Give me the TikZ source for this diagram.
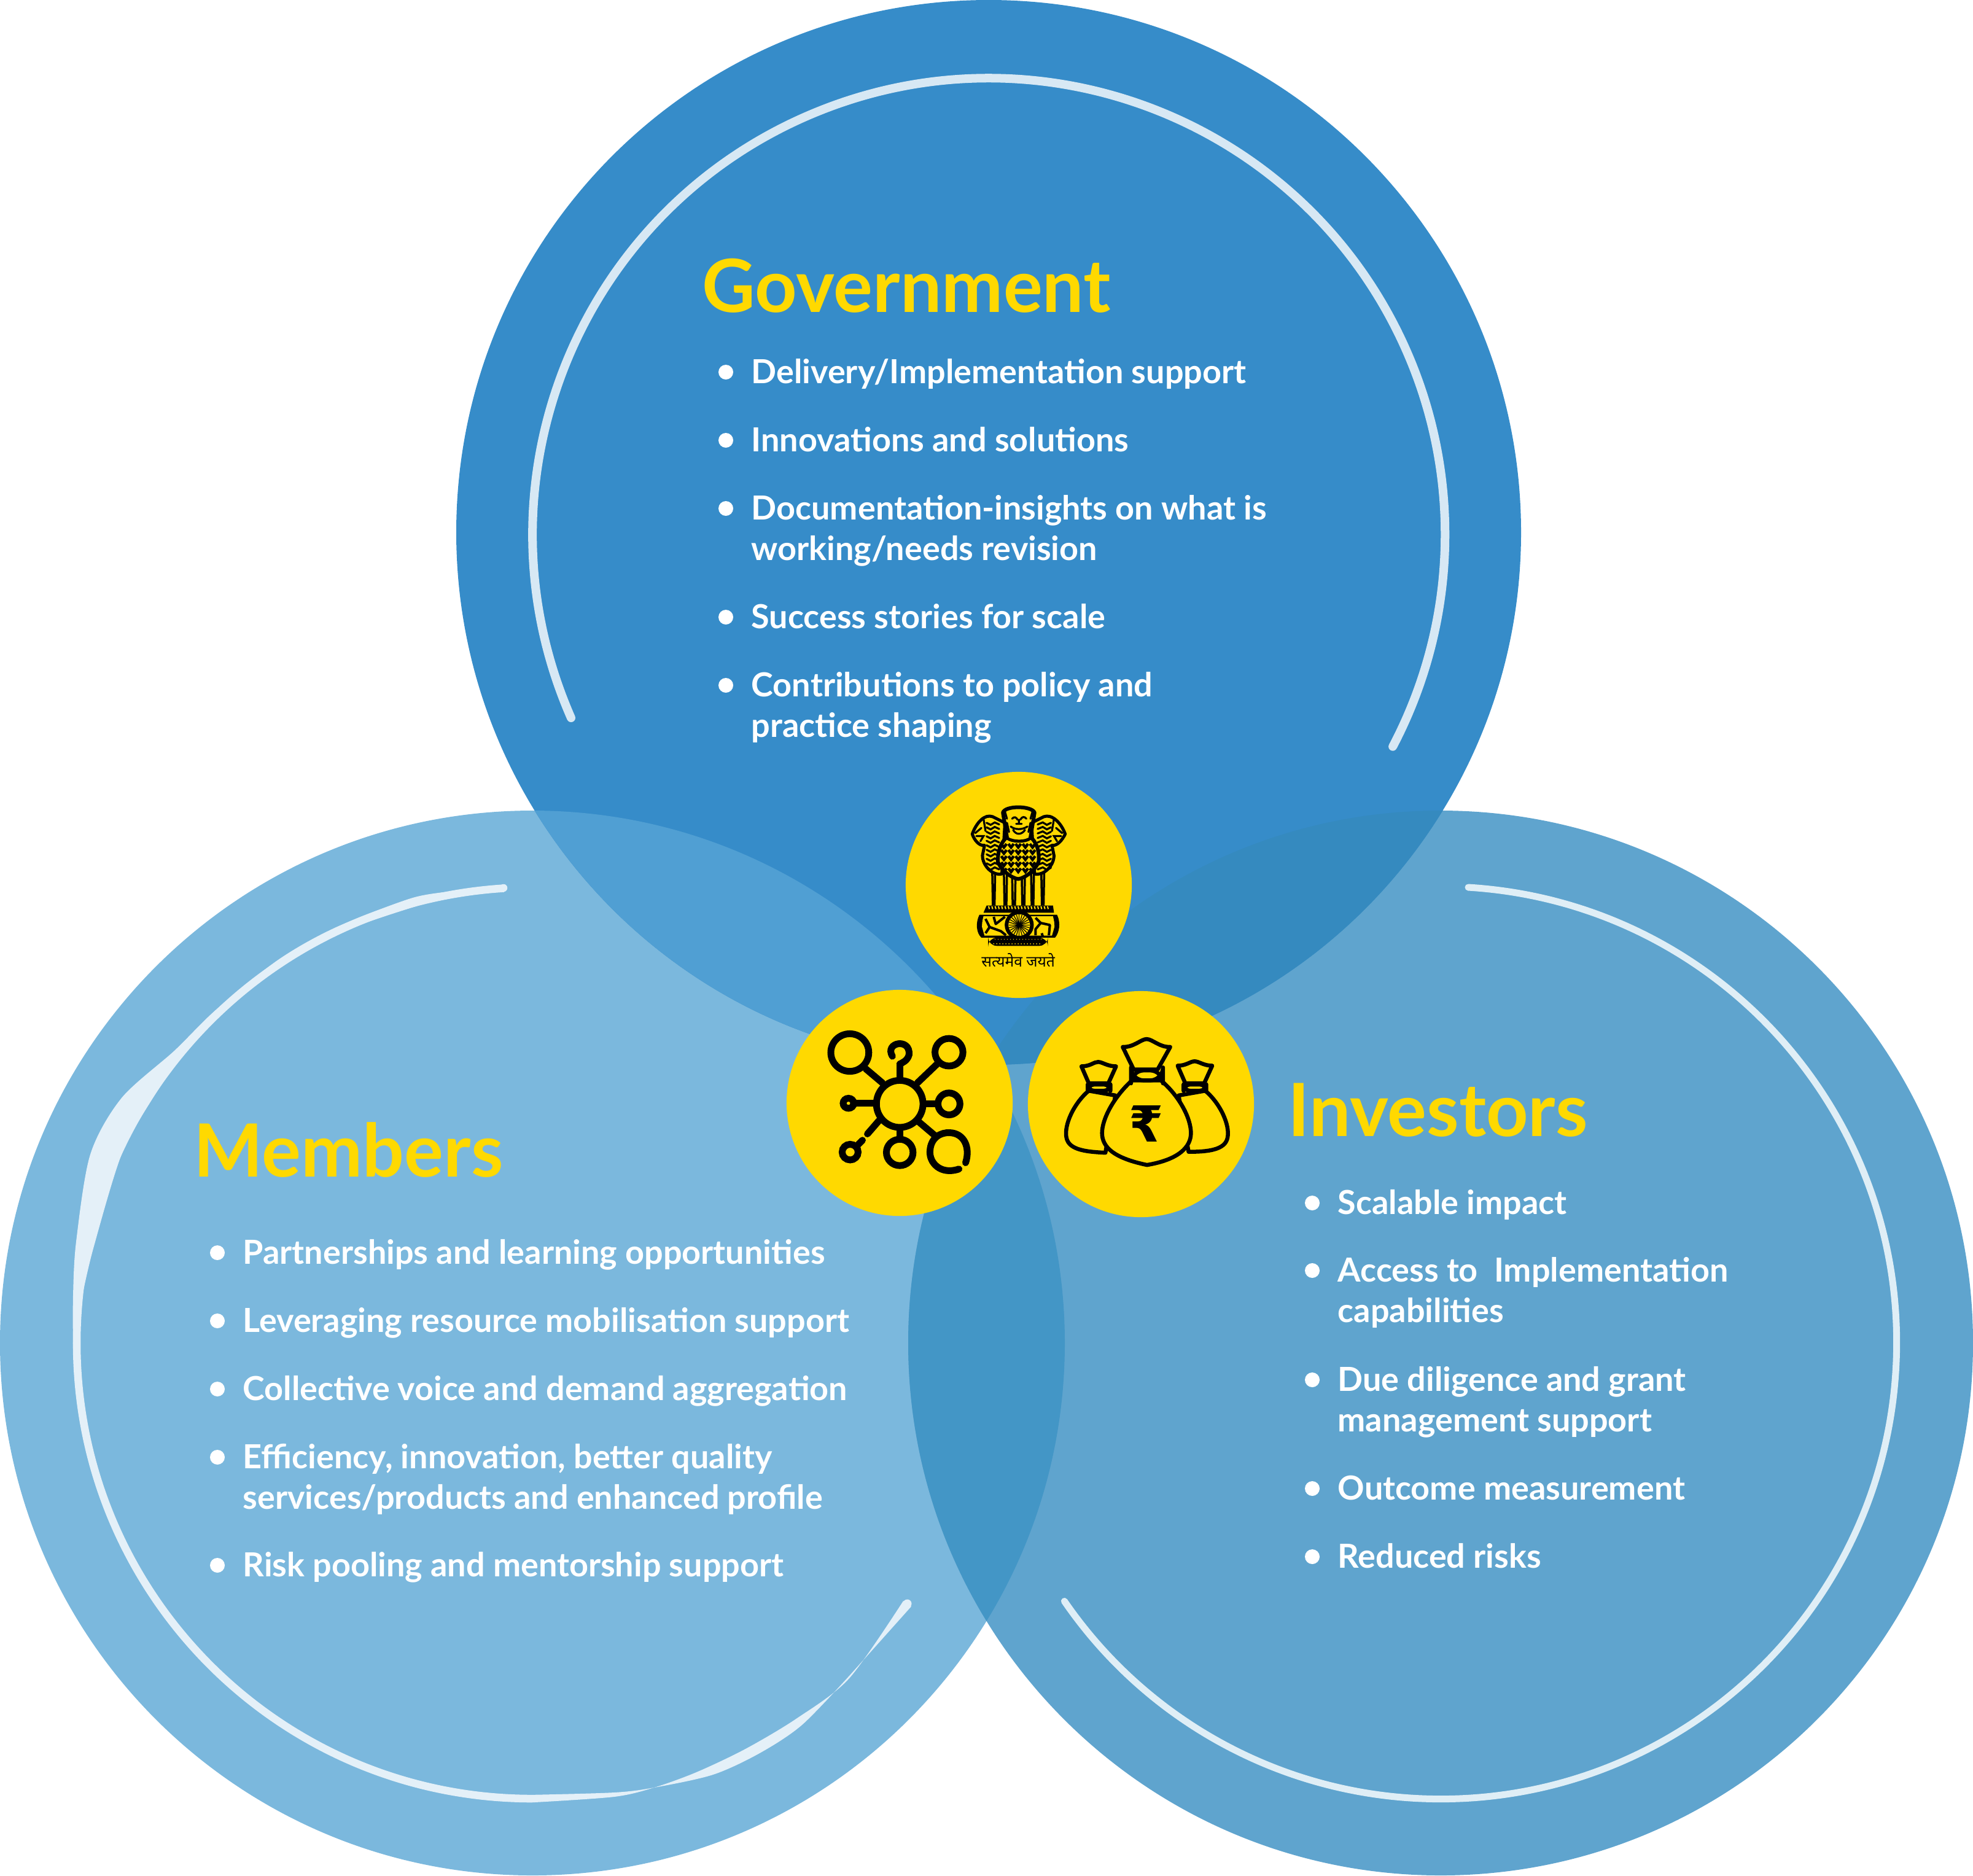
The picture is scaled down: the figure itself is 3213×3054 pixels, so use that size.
\documentclass[tikz,border=0pt]{standalone}
\usepackage{fontspec}
\setmainfont{Lato}[BoldFont=* Bold]
\newfontfamily\devfont[Script=Devanagari]{Noto Sans}
\newfontfamily\rupeefont{DejaVu Sans}
\usetikzlibrary{positioning, calc}
\definecolor{govblue}{HTML}{368CC9}
\definecolor{memblue}{HTML}{7BB8DD}
\definecolor{invblue}{HTML}{5FA4CE}
\definecolor{govmem}{HTML}{509FD3}
\definecolor{meminv}{HTML}{4396C6}
\definecolor{govinv}{HTML}{358ABF}
\definecolor{badge}{HTML}{FFD900}
\definecolor{govring}{HTML}{D7E8F4}
\definecolor{memring}{HTML}{E4F0F8}
\definecolor{invring}{HTML}{DFEEF6}
\tikzset{
  % Headings and lists
  heading/.style={font=\fontsize{34}{40}\selectfont\bfseries, text=badge, anchor=base west, inner sep=0pt},
  itemtext/.style={font=\fontsize{15.35}{18.7}\selectfont\bfseries, text=white, anchor=north west,
                   inner sep=0pt, align=left},
  itemdot/.style={circle, fill=white, minimum size=0.24cm, inner sep=0pt},
  % Rings and badges
  ring/.style={line width=#1, line cap=round},
  ring/.default=0.14cm,
  badgedisc/.style={circle, fill=badge, minimum size=3.68cm, inner sep=0pt},
  iconline/.style={draw=black, line width=0.11cm, line cap=round},
  bagline/.style={draw=black, line width=0.065cm, line join=round, fill=badge},
  % Emblem
  lionbody/.style={draw=black, line width=0.05cm, fill=badge, line join=round},
  hatch/.style={draw=black, line width=0.032cm, line cap=round},
}
\newcommand{\listitem}[5]{% name, x, y, x of dot, text
  \node[itemtext] (#1) at (#2,#3) {\strut #5};
  \node[itemdot] (#1dot) at ([shift={(#4-#2,28)}]#1.north west) {};
}
\begin{document}
\begin{tikzpicture}[x=0.01cm,y=-0.01cm]
\useasboundingbox (0,0) rectangle (3213,3054);

% ====================================================================
% Circles
% ====================================================================
\fill[memblue] (867,2187) circle[radius=867];
\fill[invblue] (2346,2187) circle[radius=867];
\fill[govblue] (1610,867) circle[radius=867];
\begin{scope}
  \clip (1610,867) circle[radius=867];
  \fill[govmem] (867,2187) circle[radius=867];
  \fill[govinv] (2346,2187) circle[radius=867];
\end{scope}
\begin{scope}
  \clip (867,2187) circle[radius=867];
  \fill[meminv] (2346,2187) circle[radius=867];
\end{scope}

% ====================================================================
% Inner rings
% ====================================================================
\draw[ring, draw=govring] (930,1169) arc[start angle=156.3, end angle=387.7, radius=743];
\draw[ring=0.11cm, draw=invring] (2391,1445) arc[start angle=-86.5, end angle=145.5, radius=743];
\draw[ring=0.125cm, draw=memring, line cap=butt] (867,2929) arc[start angle=90, end angle=266.4, radius=742];
\fill[memring] (820,1446) circle[radius=6.25];

% Members ring: thick upper left, thin lower right
\fill[memring] plot[smooth] coordinates {(745,1451) (672,1462) (545,1511) (453,1563) (351,1645) (284,1711) (198,1788) (147,1880) (124,2022) (119,2110) (119,2196)}
  -- (128,2196) -- plot[smooth] coordinates {(134,2110) (152,2033) (198,1880) (249,1788) (300,1716) (376,1637) (500,1540) (680,1475)} -- cycle;
\fill[memring] plot[smooth] coordinates {(867,2935.2) (1000,2926) (1065,2911) (1134,2886) (1214,2848) (1298,2798) (1383,2733) (1471,2607)}
  -- (1484,2616) -- plot[smooth] coordinates {(1383,2729) (1306,2809) (1237,2855) (1161,2890) (1065,2911) (1000,2919) (867,2922.8)} -- cycle;
\fill[memring] (1477.5,2611.5) circle[radius=7];

% ====================================================================
% Government
% ====================================================================
\node[heading] (govtitle) at (1143,508) {Government};
\listitem{gov1}{1223}{578}{1182}{Delivery/Implementation support}
\listitem{gov2}{1223}{689}{1182}{Innovations and solutions}
\listitem{gov3}{1223}{800}{1182}{Documentation-insights on what is\\\strut working/needs revision}
\listitem{gov4}{1223}{977}{1182}{Success stories for scale}
\listitem{gov5}{1223}{1088}{1182}{Contributions to policy and\\\strut practice shaping}

% ====================================================================
% Members
% ====================================================================
\node[heading] (memtitle) at (315,1916) {Members};
\listitem{mem1}{395}{2012}{354}{Partnerships and learning opportunities}
\listitem{mem2}{395}{2123}{354}{Leveraging resource mobilisation support}
\listitem{mem3}{395}{2234}{354}{Collective voice and demand aggregation}
\listitem{mem4}{395}{2345}{354}{Efficiency, innovation, better quality\\\strut services/products and enhanced profile}
\listitem{mem5}{395}{2521}{354}{Risk pooling and mentorship support}

% ====================================================================
% Investors
% ====================================================================
\node[heading] (invtitle) at (2097,1850) {Investors};
\listitem{inv1}{2178}{1931}{2137}{Scalable impact}
\listitem{inv2}{2178}{2041}{2137}{Access to\ \ Implementation\\\strut capabilities}
\listitem{inv3}{2178}{2219}{2137}{Due diligence and grant\\\strut management support}
\listitem{inv4}{2178}{2396}{2137}{Outcome measurement}
\listitem{inv5}{2178}{2507}{2137}{Reduced risks}

% ====================================================================
% Badges
% ====================================================================
\node[badgedisc] (emblem) at (1659,1441) {};
\node[badgedisc] (network) at (1465,1796) {};
\node[badgedisc] (bags) at (1858,1798) {};

% Network icon
\begin{scope}[shift={(1250,1200)},x=0.00542cm,y=-0.0051cm]
  \draw[iconline] (397,1172) ellipse[x radius=70, y radius=75];
  \foreach \sx/\sy/\srx/\sry in {247/1008/57/60, 545/1007/42/44, 545/1172/33/35, 243/1170/16/16,
                                 248/1326/24/25, 397/1327/40/42} {
    \draw[iconline] (\sx,\sy) ellipse[x radius=\srx, y radius=\sry];
  }
  \draw[iconline] (345,1105) -- (295,1060);
  \draw[iconline] (397,1095) -- (397,1045);
  \draw[iconline] (450,1105) -- (512,1042);
  \draw[iconline] (470,1172) -- (508,1172);
  \draw[iconline] (258,1170) -- (322,1170);
  \draw[iconline] (335,1225) -- (300,1268);
  \draw[iconline] (285,1288) -- (272,1302);
  \draw[iconline] (397,1250) -- (397,1283);
  \draw[iconline] (455,1230) -- (505,1275);
  % open rings
  \draw[iconline] (375,1020) .. controls (350,975) and (430,960) .. (425,1015) .. controls (420,1035) and (405,1040) .. (397,1045);
  \draw[iconline] (575,1380) .. controls (520,1400) and (485,1360) .. (488,1322) .. controls (490,1280) and (520,1262) .. (548,1264) .. controls (590,1266) and (610,1310) .. (595,1360);
\end{scope}

% Money bags icon
\begin{scope}[shift={(1250,1200)},x=0.00542cm,y=-0.0051cm]
  % left bag
  \draw[bagline] (965,1130) .. controls (920,1170) and (890,1240) .. (898,1280) .. controls (905,1320) and (960,1325) .. (1015,1328) -- (1045,1145) -- cycle;
  \draw[bagline, rounded corners=3pt] (962,1110) rectangle (1030,1130);
  \draw[bagline] (965,1106) -- (943,1052) .. controls (970,1052) and (980,1038) .. (993,1038) .. controls (1006,1038) and (1020,1052) .. (1047,1052) -- (1024,1106) -- cycle;
  % right bag
  \draw[bagline] (1315,1130) .. controls (1360,1170) and (1390,1240) .. (1382,1280) .. controls (1375,1320) and (1320,1325) .. (1265,1325) -- (1235,1145) -- cycle;
  \draw[bagline, rounded corners=3pt] (1250,1110) rectangle (1318,1130);
  \draw[bagline] (1255,1106) -- (1232,1050) .. controls (1258,1050) and (1270,1036) .. (1283,1036) .. controls (1296,1036) and (1310,1050) .. (1336,1050) -- (1312,1106) -- cycle;
  % middle bag
  \draw[bagline] (1095,1097) .. controls (1040,1150) and (1005,1220) .. (1005,1265) .. controls (1005,1310) and (1040,1345) .. (1140,1367) .. controls (1235,1350) and (1272,1310) .. (1272,1265) .. controls (1272,1220) and (1240,1150) .. (1182,1097) -- cycle;
  \draw[bagline, rounded corners=6pt] (1092,1065) rectangle (1188,1097);
  \draw[bagline] (1100,1062) -- (1067,990) .. controls (1100,992) and (1122,965) .. (1139,965) .. controls (1156,965) and (1178,992) .. (1210,990) -- (1172,1062) -- cycle;
  \node[font=\rupeefont\bfseries\fontsize{23}{23}\selectfont] (rupee) at (1138,1236) {₹};
\end{scope}

% Emblem
\begin{scope}[shift={(1540,1290)},x=0.00333cm,y=-0.00333cm]
  % legs
  \foreach \lx/\ly in {228/242, 285/300, 325/342, 372/388, 418/432, 468/482} {
    \draw[black, line width=0.035cm] (\lx,395) -- (\lx+3,555) (\ly,395) -- (\ly-3,555);
  }
  % side lions
  \draw[lionbody] (130,205) .. controls (150,150) and (190,105) .. (230,120) -- (290,150) -- (275,400) .. controls (230,410) and (180,360) .. (180,310) -- (190,260) .. controls (165,265) and (140,235) .. (130,205) -- cycle;
  \draw[lionbody] (585,205) .. controls (565,150) and (520,105) .. (480,120) -- (420,150) -- (435,400) .. controls (480,410) and (530,360) .. (530,310) -- (520,260) .. controls (545,265) and (570,235) .. (585,205) -- cycle;
  \foreach \ly in {150,172,...,380} {
    \draw[hatch] (200,\ly) -- (220,\ly+10) -- (240,\ly-2) -- (262,\ly+8);
    \draw[hatch] (515,\ly) -- (495,\ly+10) -- (475,\ly-2) -- (450,\ly+8);
  }
  \draw[hatch] (145,200) -- (175,175) (150,215) -- (185,215) -- (170,240) (185,130) -- (195,190);
  \draw[hatch] (570,200) -- (540,175) (565,215) -- (530,215) -- (545,240) (530,130) -- (520,190);
  % paws and rim
  \fill[black] (185,590) -- (200,555) -- (525,555) -- (530,590) -- cycle;
  \foreach \tx in {210,226,...,510} {
    \draw[badge, line width=0.02cm] (\tx,558) -- (\tx+4,572);
  }
  % middle lion
  \draw[lionbody, line width=0.06cm] (255,340) .. controls (255,280) and (275,240) .. (300,220) -- (280,100) .. controls (290,65) and (420,65) .. (435,100) -- (415,220) .. controls (440,240) and (460,280) .. (455,340) .. controls (440,380) and (390,420) .. (355,425) .. controls (320,420) and (270,380) .. (255,340) -- cycle;
  \foreach \cy in {265,295,...,385} {
    \foreach \cx in {285,320,355,390,425} {
      \draw[black, line width=0.045cm] (\cx-13,\cy-12) -- (\cx,\cy+5) -- (\cx+13,\cy-12);
    }
  }
  \draw[black, line width=0.05cm] (300,225) .. controls (330,245) and (390,245) .. (415,225);
  \draw[hatch] (325,130) .. controls (335,118) and (345,122) .. (352,135) (365,135) .. controls (375,118) and (385,118) .. (395,130)
    (345,155) -- (372,155) (358,135) -- (358,155) (318,168) .. controls (340,185) and (375,185) .. (400,168) (330,185) .. controls (345,210) and (370,210) .. (388,185)
    (290,95) -- (300,130) (425,95) -- (415,130) (300,150) -- (310,195) (415,150) -- (405,195);
  % drum
  \fill[black] (165,600) -- (545,600) .. controls (565,640) and (555,690) .. (535,712) -- (175,712) .. controls (150,690) and (145,640) .. (165,600) -- cycle;
  \fill[badge] (185,607) -- (525,607) -- (535,650) -- (520,702) -- (190,702) -- (175,650) -- cycle;
  \draw[black, line width=0.03cm] (175,625) -- (170,690) (535,625) -- (540,690);
  % horse and bull
  \draw[black, line width=0.04cm, line join=round] (195,690) -- (215,660) -- (270,680) -- (295,700) (215,660) -- (195,620) (235,610) -- (245,645) -- (290,610);
  \draw[black, line width=0.04cm, line join=round] (440,615) -- (465,640) -- (510,650) -- (505,700) (465,640) -- (440,670) -- (440,700) (470,690) -- (475,705);
  % wheel
  \draw[black, line width=0.06cm, fill=badge] (360,650) circle[radius=62];
  \foreach \wa in {0,15,...,345} {
    \draw[black, line width=0.012cm] (360,650) -- ++(\wa:52);
  }
  \fill[black] (360,650) circle[radius=10];
  % plate
  \fill[black, rounded corners=4pt] (208,712) rectangle (500,752);
  \foreach \dx in {235,250,...,470} {
    \fill[badge] (\dx,742) circle[radius=3];
    \fill[badge] (\dx+7,720) circle[radius=2];
  }
  \node[font=\devfont\fontsize{7}{7}\selectfont, text=black, inner sep=0pt] (motto) at (355,822) {सत्यमेव जयते};
\end{scope}
\end{tikzpicture}
\end{document}
